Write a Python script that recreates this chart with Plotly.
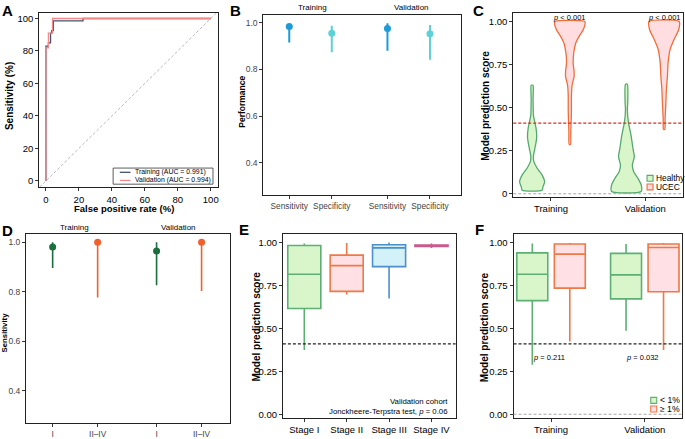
import plotly.graph_objects as go

W, H = 685, 439
FONT = "Liberation Sans, Arial, sans-serif"

# ---------------- data ----------------
# A: ROC curves (false positive rate %, sensitivity %)
roc_train_fpr = [0, 0, 1.5, 1.5, 2.8, 2.8, 3.5, 3.5, 4.5, 4.5, 22.5, 22.5, 100]
roc_train_tpr = [0, 83, 83, 85, 85, 91, 91, 92.5, 92.5, 98.5, 98.5, 100, 100]
roc_valid_fpr = [0, 0, 1.5, 1.5, 4, 4, 100]
roc_valid_tpr = [0, 82, 82, 91, 91, 100, 100]
roc_labels = ["Training (AUC = 0.991)", "Validation (AUC = 0.994)"]

# B: performance with CI
cohorts = ["Training", "Validation"]
metrics = ["Sensitivity", "Specificity"]
sens_est = [0.983, 0.975]
sens_lo = [0.915, 0.879]
sens_hi = [0.994, 0.997]
spec_est = [0.954, 0.952]
spec_lo = [0.873, 0.841]
spec_hi = [0.986, 0.990]

# C: violin density profiles (score level, half width)
groups_c = ["Healthy", "UCEC"]
viol_train_healthy_y = [0.02, 0.04, 0.07, 0.11, 0.15, 0.19, 0.22, 0.26, 0.30, 0.33, 0.38, 0.435, 0.455, 0.55, 0.63]
viol_train_healthy_w = [0.105, 0.115, 0.133, 0.105, 0.052, 0.017, 0.014, 0.028, 0.042, 0.049, 0.042, 0.021, 0.014, 0.010, 0.010]
viol_train_ucec_y = [0.287, 0.36, 0.42, 0.49, 0.57, 0.63, 0.68, 0.71, 0.76, 0.82, 0.875, 0.914, 0.95, 0.98, 1.0]
viol_train_ucec_w = [0.007, 0.010, 0.014, 0.017, 0.017, 0.024, 0.045, 0.045, 0.035, 0.042, 0.063, 0.098, 0.140, 0.160, 0.160]
viol_valid_healthy_y = [0.013, 0.052, 0.09, 0.128, 0.167, 0.215, 0.262, 0.339, 0.416, 0.49, 0.53, 0.636]
viol_valid_healthy_w = [0.157, 0.157, 0.122, 0.077, 0.063, 0.084, 0.070, 0.049, 0.021, 0.010, 0.014, 0.010]
viol_valid_ucec_y = [0.374, 0.435, 0.511, 0.607, 0.684, 0.76, 0.837, 0.895, 0.952, 1.0]
viol_valid_ucec_w = [0.007, 0.010, 0.017, 0.024, 0.035, 0.042, 0.063, 0.105, 0.154, 0.160]
threshold = 0.41
p_c = ["<i>p</i> &lt; 0.001", "<i>p</i> &lt; 0.001"]

# D: sensitivity by stage
stage_groups = ["I", "II\u2013IV"]
st1_est = [0.980, 0.964]
st1_lo = [0.896, 0.826]
st1_hi = [1.0, 1.0]
st2_est = [1.0, 1.0]
st2_lo = [0.776, 0.803]
st2_hi = [1.0, 1.0]

# E: score by stage (validation)
stages = ["Stage I", "Stage II", "Stage III", "Stage IV"]
e_q1 = [0.616, 0.716, 0.860, 0.978]
e_med = [0.816, 0.866, 0.969, 0.982]
e_q3 = [0.983, 0.927, 0.987, 0.986]
e_lo = [0.374, 0.697, 0.674, 0.968]
e_hi = [0.994, 0.998, 1.000, 0.995]

# F: score by tumour fraction
f_groups = ["Training", "Validation"]
f_low_q1 = [0.662, 0.672]
f_low_med = [0.816, 0.812]
f_low_q3 = [0.940, 0.937]
f_low_lo = [0.288, 0.486]
f_low_hi = [0.994, 0.992]
f_high_q1 = [0.735, 0.714]
f_high_med = [0.933, 0.971]
f_high_q3 = [0.992, 0.992]
f_high_lo = [0.424, 0.374]
f_high_hi = [0.998, 0.998]
f_p = ["<i>p</i> = 0.211", "<i>p</i> = 0.032"]

# ---------------- styling ----------------
C_TRAIN = "#46526C"
C_VALID = "#F4898C"
C_SENS = "#1C9BD7"
C_SPEC = "#5DD0D8"
C_GREEN_D = "#1B6E3D"
C_ORANGE_D = "#F0602C"
C_H_LINE, C_H_FILL = "#55A86F", "#D8F6C9"
C_U_LINE, C_U_FILL = "#EE6E3A", "#FFDDE1"
E_LINES = ["#5DAF74", "#EE7846", "#4D8FCB", "#C85A8C"]
E_FILLS = ["#D9F6CA", "#FFE0E4", "#D3F1F8", "#F3D3E2"]
DASH = "3px,2px"


def dx(a, b):
    return [a / W, b / W]


def dy(top, bottom):
    return [1 - bottom / H, 1 - top / H]


def P(x, y):
    return x / W, 1 - y / H


fig = go.Figure()

# ---- A ----
fig.add_trace(go.Scatter(x=roc_train_fpr, y=roc_train_tpr, mode="lines",
                         line=dict(color=C_TRAIN, width=1.3), xaxis="x", yaxis="y", showlegend=False))
fig.add_trace(go.Scatter(x=roc_valid_fpr, y=roc_valid_tpr, mode="lines",
                         line=dict(color=C_VALID, width=1.3), xaxis="x", yaxis="y", showlegend=False))

# ---- B ----
facet_pos = [[1.0, 2.0], [3.31, 4.31]]
sens_x = [facet_pos[i][0] for i in range(2)]
spec_x = [facet_pos[i][1] for i in range(2)]


def ci_trace(xs, est, lo, hi, color, ax, ay, lw=2.0):
    return go.Scatter(
        x=xs, y=est, mode="markers", xaxis=ax, yaxis=ay, showlegend=False,
        marker=dict(color=color, size=7),
        error_y=dict(type="data", symmetric=False,
                     array=[h - e for h, e in zip(hi, est)],
                     arrayminus=[e - l for e, l in zip(est, lo)],
                     color=color, thickness=lw, width=0))


fig.add_trace(ci_trace(sens_x, sens_est, sens_lo, sens_hi, C_SENS, "x2", "y2"))
fig.add_trace(ci_trace(spec_x, spec_est, spec_lo, spec_hi, C_SPEC, "x2", "y2"))

# ---- C ----
dodge = 0.2


def violin(center, ys, ws, line_c, fill_c):
    xs = [center + w for w in ws] + [center - w for w in reversed(ws)]
    yy = list(ys) + list(reversed(ys))
    xs.append(xs[0])
    yy.append(yy[0])
    return go.Scatter(x=xs, y=yy, mode="lines", fill="toself", fillcolor=fill_c,
                      line=dict(color=line_c, width=1.3, shape="spline", smoothing=0.6),
                      xaxis="x3", yaxis="y3", showlegend=False, hoverinfo="skip")


fig.add_trace(violin(1 - dodge, viol_train_healthy_y, viol_train_healthy_w, C_H_LINE, C_H_FILL))
fig.add_trace(violin(1 + dodge, viol_train_ucec_y, viol_train_ucec_w, C_U_LINE, C_U_FILL))
fig.add_trace(violin(2 - dodge, viol_valid_healthy_y, viol_valid_healthy_w, C_H_LINE, C_H_FILL))
fig.add_trace(violin(2 + dodge, viol_valid_ucec_y, viol_valid_ucec_w, C_U_LINE, C_U_FILL))

# ---- D ----
d_x1 = [facet_pos[i][0] for i in range(2)]
d_x2 = [facet_pos[i][1] for i in range(2)]
fig.add_trace(ci_trace(d_x1, st1_est, st1_lo, st1_hi, C_GREEN_D, "x4", "y4", lw=1.6))
fig.add_trace(ci_trace(d_x2, st2_est, st2_lo, st2_hi, C_ORANGE_D, "x4", "y4", lw=1.6))

# ---- E ----
for i, s in enumerate(stages):
    fig.add_trace(go.Box(x=[i + 1], q1=[e_q1[i]], median=[e_med[i]], q3=[e_q3[i]],
                         lowerfence=[e_lo[i]], upperfence=[e_hi[i]], width=0.78,
                         whiskerwidth=0, line=dict(color=E_LINES[i], width=1.6),
                         fillcolor=E_FILLS[i], xaxis="x5", yaxis="y5", showlegend=False,
                         boxpoints=False))

# ---- F ----
fdodge = 0.2
fig.add_trace(go.Box(x=[i + 1 - fdodge for i in range(2)], q1=f_low_q1, median=f_low_med, q3=f_low_q3,
                     lowerfence=f_low_lo, upperfence=f_low_hi, width=0.33, whiskerwidth=0,
                     line=dict(color=E_LINES[0], width=1.6), fillcolor=E_FILLS[0],
                     xaxis="x6", yaxis="y6", showlegend=False, boxpoints=False))
fig.add_trace(go.Box(x=[i + 1 + fdodge for i in range(2)], q1=f_high_q1, median=f_high_med, q3=f_high_q3,
                     lowerfence=f_high_lo, upperfence=f_high_hi, width=0.33, whiskerwidth=0,
                     line=dict(color=E_LINES[1], width=1.6), fillcolor=E_FILLS[1],
                     xaxis="x6", yaxis="y6", showlegend=False, boxpoints=False))

# ---------------- axes ----------------
def ax(domain, rng, anchor, tickvals=None, ticktext=None, fsize=9, color="black", ticklen=3):
    d = dict(domain=domain, range=rng, anchor=anchor, showline=True, mirror=True,
             linecolor="#222222", linewidth=1, ticks="outside", ticklen=ticklen, tickwidth=1,
             tickcolor="#333333", showgrid=False, zeroline=False,
             tickfont=dict(family=FONT, size=fsize, color=color), fixedrange=True)
    if tickvals is not None:
        d["tickmode"] = "array"
        d["tickvals"] = tickvals
        d["ticktext"] = ticktext if ticktext is not None else [str(v) for v in tickvals]
    return d


A_X = [-4.06, 104.4]
A_Y = [-3.83, 103.65]
GRAY = "#444444"
lay = dict(
    xaxis=ax(dx(39.3, 218.3), A_X, "y", [0, 20, 40, 60, 80, 100], fsize=9.5),
    yaxis=ax(dy(12.7, 189.3), A_Y, "x", [0, 20, 40, 60, 80, 100], fsize=9.5),
    xaxis2=ax(dx(263.7, 461.7), [0.39, 5.04], "y2", sens_x + spec_x,
              [metrics[0]] * 2 + [metrics[1]] * 2, fsize=8.3, color=GRAY),
    yaxis2=ax(dy(15, 197.3), [0.263, 1.033], "x2", [0.4, 0.6, 0.8, 1.0],
              ["0.4", "0.6", "0.8", "1.0"], fsize=8.5, color=GRAY),
    xaxis3=ax(dx(514, 684), [0.6, 2.4], "y3", [1, 2], cohorts, fsize=9.5),
    yaxis3=ax(dy(12.7, 199), [-0.017, 1.052], "x3", [0, 0.25, 0.5, 0.75, 1.0],
              ["0", "0.25", "0.50", "0.75", "1.00"], fsize=9.5),
    xaxis4=ax(dx(26, 230.7), [0.407, 4.95], "y4", d_x1 + d_x2,
              [stage_groups[0]] * 2 + [stage_groups[1]] * 2, fsize=8.3, color=GRAY),
    yaxis4=ax(dy(236.7, 428.3), [0.2675, 1.033], "x4", [0.4, 0.6, 0.8, 1.0],
              ["0.4", "0.6", "0.8", "1.0"], fsize=8.5, color=GRAY),
    xaxis5=ax(dx(283.3, 456.3), [0.495, 4.57], "y5", [1, 2, 3, 4], stages, fsize=9.5),
    yaxis5=ax(dy(236.7, 422.7), [-0.021, 1.05], "x5", [0, 0.25, 0.5, 0.75, 1.0],
              ["0.00", "0.25", "0.50", "0.75", "1.00"], fsize=9.5),
    xaxis6=ax(dx(514.3, 683.3), [0.6, 2.4], "y6", [1, 2], f_groups, fsize=9.5),
    yaxis6=ax(dy(236.7, 422.7), [-0.021, 1.05], "x6", [0, 0.25, 0.5, 0.75, 1.0],
              ["0.00", "0.25", "0.50", "0.75", "1.00"], fsize=9.5),
)

shapes = []
# A diagonal reference
lo_d = max(A_X[0], A_Y[0])
hi_d = min(A_X[1], A_Y[1])
shapes.append(dict(type="line", xref="x", yref="y", x0=lo_d, y0=lo_d, x1=hi_d, y1=hi_d,
                   line=dict(color="#A8A8A8", width=0.8, dash=DASH), layer="below"))
# threshold lines
for xa, ya, col, zero in [("x3", "y3", "#E3261F", True), ("x5", "y5", "#222222", False),
                          ("x6", "y6", "#222222", True)]:
    shapes.append(dict(type="line", xref=xa + " domain", yref=ya, x0=0, x1=1, y0=threshold, y1=threshold,
                       line=dict(color=col, width=1.1, dash=DASH)))
    if zero:
        shapes.append(dict(type="line", xref=xa + " domain", yref=ya, x0=0, x1=1, y0=0, y1=0,
                           line=dict(color="#A8A8A8", width=1.1, dash=DASH)))

ann = []


def text(x, y, s, size, bold=False, xanchor="center", yanchor="middle", angle=0, color="black"):
    if bold:
        s = "<b>" + s + "</b>"
    px, py = P(x, y)
    ann.append(dict(x=px, y=py, xref="paper", yref="paper", text=s, showarrow=False,
                    xanchor=xanchor, yanchor=yanchor, textangle=angle,
                    font=dict(family=FONT, size=size, color=color)))


# panel letters
for L, x, y in [("A", 0, 0), ("B", 228, 0), ("C", 472, 0), ("D", 0, 222.5), ("E", 237, 222), ("F", 474, 222)]:
    text(x, y, L, 15, bold=True, xanchor="left", yanchor="top")

# axis titles
text(9.5, 96.7, "Sensitivity (%)", 10, bold=True, angle=-90)
text(124, 210.7, "False positive rate (%)", 9.5, bold=True)
text(242, 103.3, "Performance", 8.5, bold=True, angle=-90)
text(486, 106.7, "Model prediction score", 10, bold=True, angle=-90)
text(4.5, 335.8, "Sensitivity", 7.8, bold=True, angle=-90)
text(256.7, 330, "Model prediction score", 10, bold=True, angle=-90)
text(485, 330.8, "Model prediction score", 10, bold=True, angle=-90)

# facet strips
text(313, 7.5, cohorts[0], 8)
text(412, 7.5, cohorts[1], 8)
text(74.7, 229.7, cohorts[0], 8)
text(178.3, 229.7, cohorts[1], 8)

# A legend
shapes.append(dict(type="rect", xref="paper", yref="paper",
                   x0=113.3 / W, x1=213.3 / W, y0=1 - 186.3 / H, y1=1 - 170 / H,
                   line=dict(color="#333333", width=0.8), fillcolor="white"))
for i, (lab, col) in enumerate(zip(roc_labels, [C_TRAIN, C_VALID])):
    yy = 174.3 + i * 8.2
    shapes.append(dict(type="line", xref="paper", yref="paper", x0=120 / W, x1=130.7 / W,
                       y0=1 - yy / H, y1=1 - yy / H, line=dict(color=col, width=1.3)))
    text(133, yy, lab, 6.9, xanchor="left")

# C annotations
for i in range(2):
    ann.append(dict(x=i + 1 + dodge, y=1.0, xref="x3", yref="y3", text=p_c[i], showarrow=False,
                    xanchor="center", yanchor="bottom", yshift=-2,
                    font=dict(family=FONT, size=7.5, color="black")))
for i, (lab, lc, fc) in enumerate(zip(groups_c, [C_H_LINE, C_U_LINE], [C_H_FILL, C_U_FILL])):
    cy = 180.4 + i * 8.7
    shapes.append(dict(type="rect", xref="paper", yref="paper", x0=648.0 / W, x1=654 / W,
                       y0=1 - (cy + 3.0) / H, y1=1 - (cy - 3.0) / H,
                       line=dict(color=lc, width=1.1), fillcolor=fc))
    text(655, cy, lab, 8.4, xanchor="left")

# E annotations
text(451, 405.7, "Validation cohort", 7.8, xanchor="right")
text(451, 416, "Jonckheere-Terpstra test, <i>p</i> = 0.06", 7.8, xanchor="right")

# F annotations
for i in range(2):
    ann.append(dict(x=i + 1 - 0.02, y=0.33, xref="x6", yref="y6", text=f_p[i], showarrow=False,
                    xanchor="center", yanchor="middle", font=dict(family=FONT, size=7.5, color="black")))
for i, (lab, lc, fc) in enumerate(zip(["&lt; 1%", "\u2265 1%"], [E_LINES[0], E_LINES[1]], [E_FILLS[0], E_FILLS[1]])):
    cy = 405 + i * 8.7
    shapes.append(dict(type="rect", xref="paper", yref="paper", x0=651.7 / W, x1=657.7 / W,
                       y0=1 - (cy + 3) / H, y1=1 - (cy - 3) / H,
                       line=dict(color=lc, width=1.1), fillcolor=fc))
    text(659, cy, lab, 8.6, xanchor="left")

fig.update_layout(
    width=W, height=H, autosize=False, margin=dict(l=0, r=0, t=0, b=0),
    paper_bgcolor="white", plot_bgcolor="white", showlegend=False,
    font=dict(family=FONT), shapes=shapes, annotations=ann, **lay)

fig.write_html("out.html", config=dict(displayModeBar=False))
